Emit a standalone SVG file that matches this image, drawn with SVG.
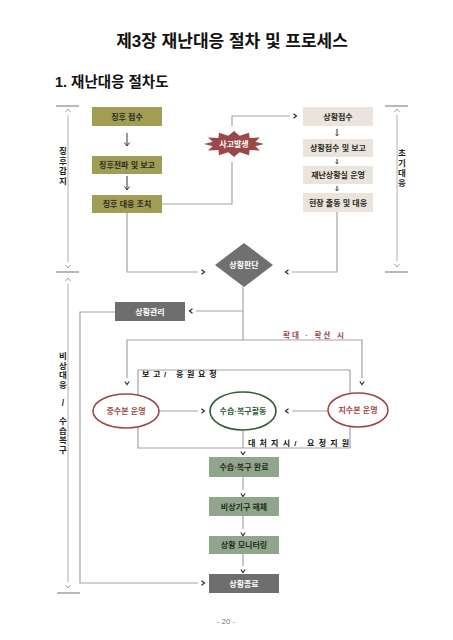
<svg xmlns="http://www.w3.org/2000/svg" width="453" height="640" viewBox="0 0 453 640">
<defs>
<style>
text{font-family:"Liberation Sans","Noto Sans CJK KR",sans-serif;font-weight:bold;}
.t{font-size:8px;text-anchor:middle;fill:#2a2a22;}
.w{font-size:8px;text-anchor:middle;fill:#ffffff;}
.v{font-size:8.5px;text-anchor:middle;fill:#222;}
.olive{fill:#a19d55;}
.beige{fill:#ebe4dc;}
.green{fill:#8fa68c;}
.dark{fill:#6e6e6e;}
.ln{fill:none;stroke:#a3a3a3;stroke-width:1.2;}
.br{fill:none;stroke:#b0b0b0;stroke-width:1;}
.brh{fill:none;stroke:#b8b8b8;stroke-width:1.8;}
.dn{fill:none;stroke:#333;stroke-width:1;}
.lab{font-size:8px;fill:#111;}
</style>
<marker id="chev" markerUnits="userSpaceOnUse" viewBox="0 0 10 6" markerWidth="10" markerHeight="6" refX="0" refY="3" orient="auto-start-reverse">
<path d="M3.5,0.8 L6.5,3 L3.5,5.2" fill="none" stroke="#222" stroke-width="1.1"/>
</marker>
<marker id="tick" markerUnits="userSpaceOnUse" viewBox="0 0 10 6" markerWidth="10" markerHeight="6" refX="0" refY="3" orient="auto-start-reverse">
<path d="M3,0.5 L6,3 L3,5.5" fill="none" stroke="#999" stroke-width="0.9"/>
</marker>
<marker id="ah" markerUnits="userSpaceOnUse" viewBox="0 0 8 8" markerWidth="8" markerHeight="8" refX="7" refY="4" orient="auto">
<path d="M3.5,1.5 L7,4 L3.5,6.5" fill="none" stroke="#333" stroke-width="1"/>
</marker>
<marker id="ahs" markerUnits="userSpaceOnUse" viewBox="0 0 6 6" markerWidth="6" markerHeight="6" refX="5" refY="3" orient="auto">
<path d="M3,1.3 L5,3 L3,4.7" fill="none" stroke="#555" stroke-width="0.8"/>
</marker>
</defs>
<rect width="453" height="640" fill="#ffffff"/>

<text x="232" y="47" font-size="17" text-anchor="middle" fill="#111">제3장 재난대응 절차 및 프로세스</text>
<text x="55" y="87" font-size="14.5" fill="#111">1. 재난대응 절차도</text>

<g id="connectors">
<path class="ln" d="M127,213 V272 H198" marker-end="url(#chev)"/>
<path class="ln" d="M162,204 H232 V162"/>
<path class="ln" d="M232,126 V116 H290" marker-end="url(#chev)"/>
<path class="ln" d="M337,212 V272 H292" marker-end="url(#chev)"/>
<path class="ln" d="M243,287 V340"/>
<path class="ln" d="M243,311 H196" marker-end="url(#chev)"/>
<path class="ln" d="M127,378 V340 H362 V378" marker-start="url(#chev)" marker-end="url(#chev)"/>
<path class="ln" d="M115,312 H80 V583 H198" marker-end="url(#chev)"/>
<path class="ln" d="M159,411 H198" marker-end="url(#chev)"/>
<path class="ln" d="M328,411 H292" marker-end="url(#chev)"/>
<path class="ln" d="M138,395 V370 H350 V394"/>
<path class="ln" d="M138,427 V448 H350 V426"/>
<path class="ln" d="M243,430 V448" marker-end="url(#chev)"/>
<path class="ln" d="M243,477 V490" marker-end="url(#chev)"/>
<path class="ln" d="M243,516 V529" marker-end="url(#chev)"/>
<path class="ln" d="M243,554 V566" marker-end="url(#chev)"/>
<path class="dn" d="M127,133 V146" marker-end="url(#ah)"/>
<path class="dn" d="M127,176 V190" marker-end="url(#ah)"/>
<path class="dn" d="M337,129 V136" marker-end="url(#ahs)"/>
<path class="dn" d="M337,159 V164" marker-end="url(#ahs)"/>
<path class="dn" d="M337,186 V191" marker-end="url(#ahs)"/>
</g>

<g id="brackets">
<path class="brh" d="M56,106 H79 M56,272 H79 M57,593 H80 M385,106 H408 M385,272 H408"/>
<path class="br" d="M68,115 V262" marker-start="url(#tick)" marker-end="url(#tick)"/>
<path class="br" d="M68,284 V582" marker-start="url(#tick)" marker-end="url(#tick)"/>
<path class="br" d="M397,115 V261" marker-start="url(#tick)" marker-end="url(#tick)"/>
<text class="v" x="63"><tspan x="63" y="154">징</tspan><tspan x="63" y="164">후</tspan><tspan x="63" y="174">감</tspan><tspan x="63" y="184">지</tspan></text>
<text class="v" x="402"><tspan x="402" y="156">초</tspan><tspan x="402" y="166">기</tspan><tspan x="402" y="176">대</tspan><tspan x="402" y="186">응</tspan></text>
<text class="v" x="63"><tspan x="63" y="359">비</tspan><tspan x="63" y="368.5">상</tspan><tspan x="63" y="378">대</tspan><tspan x="63" y="387.5">응</tspan><tspan x="63" y="406">/</tspan><tspan x="63" y="424">수</tspan><tspan x="63" y="433.5">습</tspan><tspan x="63" y="443">복</tspan><tspan x="63" y="452.5">구</tspan></text>
</g>

<g id="n-jinghu-jeopsu"><rect class="olive" x="92" y="107" width="70" height="19"/><text class="t" x="127" y="119.5">징후 접수</text></g>
<g id="n-jinghu-jeonpa"><rect class="olive" x="92" y="156" width="70" height="18"/><text class="t" x="127" y="168">징후전파 및 보고</text></g>
<g id="n-jinghu-daeeung"><rect class="olive" x="92" y="195" width="70" height="18"/><text class="t" x="127" y="207">징후 대응 조치</text></g>

<g id="n-sago">
<polygon fill="#9c4848" points="264,144 255.3,146.2 260,150.5 249.6,150 249,155.3 239.7,152.2 234,157 228.3,152.2 219,155.3 218.4,150 208,150.5 212.7,146.2 204,144 212.7,141.8 208,137.5 218.4,138 219,132.7 228.3,135.8 234,131 239.7,135.8 249,132.7 249.6,138 260,137.5 255.3,141.8"/>
<text class="w" x="234" y="147">사고발생</text>
</g>

<g id="n-sanghwang-jeopsu"><rect class="beige" x="303" y="107" width="70" height="19"/><text class="t" x="338" y="119.5">상황접수</text></g>
<g id="n-jeopsu-bogo"><rect class="beige" x="303" y="139" width="70" height="18"/><text class="t" x="338" y="151">상황접수 및 보고</text></g>
<g id="n-jaenan-sanghwangsil"><rect class="beige" x="303" y="166" width="70" height="18"/><text class="t" x="338" y="178">재난상황실 운영</text></g>
<g id="n-hyeonjang"><rect class="beige" x="303" y="193" width="70" height="19"/><text class="t" x="338" y="205.5">현장 출동 및 대응</text></g>

<g id="n-pandan"><polygon fill="#707070" points="244,243 273,265 244,287 215,265"/><text class="w" x="244" y="268">상황판단</text></g>

<g id="n-gwanri"><rect class="dark" x="115" y="302" width="70" height="19"/><text class="w" x="150" y="314.5">상황관리</text></g>

<text x="283" y="337.5" font-size="7.5" fill="#9c4848" letter-spacing="2.2">확대 · 확산 시</text>
<text class="lab" x="142" y="377" letter-spacing="3.7">보고/ 응원요청</text>
<text class="lab" x="248" y="446" letter-spacing="4.2">대처지시/ 요청지원</text>

<g id="n-jungsubon"><ellipse cx="126" cy="411" rx="33" ry="17" fill="#fff" stroke="#9c4848" stroke-width="1.6"/><text x="126" y="414" font-size="8" text-anchor="middle" fill="#9c4848">중수본 운영</text></g>
<g id="n-susup"><ellipse cx="243" cy="411" rx="33" ry="19" fill="#fff" stroke="#2f5e36" stroke-width="1.6"/><text x="243" y="414" font-size="8" text-anchor="middle" fill="#2f5e36">수습·복구활동</text></g>
<g id="n-jisubon"><ellipse cx="358" cy="410" rx="30" ry="17" fill="#fff" stroke="#9c4848" stroke-width="1.6"/><text x="358" y="413" font-size="8" text-anchor="middle" fill="#9c4848">지수본 운영</text></g>

<g id="n-wanryo"><rect class="green" x="209" y="457" width="70" height="20"/><text class="t" x="244" y="470">수습·복구 완료</text></g>
<g id="n-haeche"><rect class="green" x="209" y="497" width="70" height="19"/><text class="t" x="244" y="509.5">비상기구 해체</text></g>
<g id="n-monitoring"><rect class="green" x="209" y="536" width="70" height="18"/><text class="t" x="244" y="548">상황 모니터링</text></g>
<g id="n-jongryo"><rect class="dark" x="209" y="574" width="70" height="19"/><text class="w" x="244" y="586.5">상황종료</text></g>

<text x="226" y="624" font-size="8" text-anchor="middle" fill="#777" style="font-weight:normal">- 20 -</text>
</svg>
